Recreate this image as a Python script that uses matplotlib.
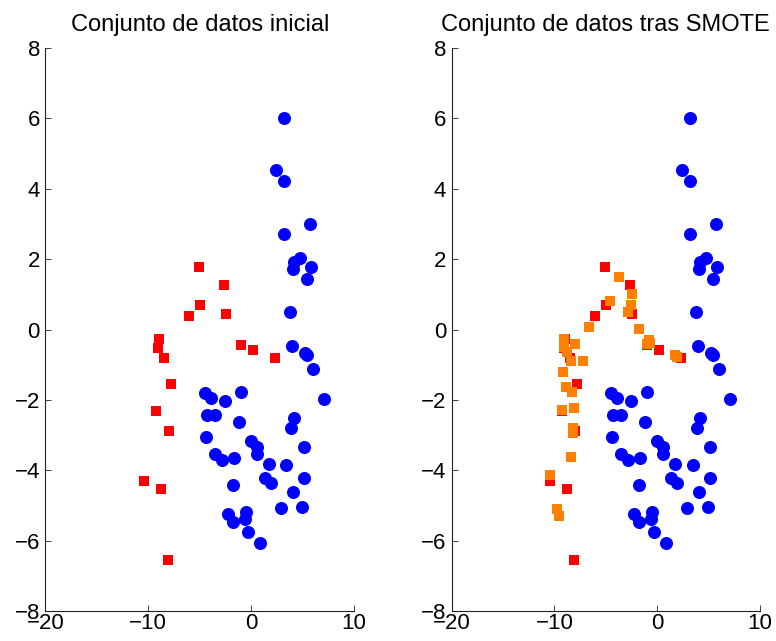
import numpy as np
import matplotlib
matplotlib.use("Agg")
import matplotlib.pyplot as plt

plt.rcParams['font.family'] = ['Liberation Sans', 'DejaVu Sans']

# Majority class (blue circles)
maj_x = [3.15, 2.46, 3.24, 5.68, 3.24, 4.77, 4.18, 4.05, 5.83, 5.41, 3.79, 3.97,
         5.25, 5.40, 6.00, 7.13, -4.49, -3.87, -2.50, -1.01, -4.29, -3.54, -1.17,
         4.18, 3.86, -4.35, -0.04, 0.61, 5.12, 0.61, -3.48, -2.79, -1.69, 1.71,
         3.44, 5.12, 1.32, 1.97, -1.73, 4.05, 2.88, 4.96, -2.28, -0.50, -1.73,
         -0.62, -0.33, 0.84]
maj_y = [6.02, 4.53, 4.21, 3.00, 2.72, 2.03, 1.91, 1.72, 1.79, 1.43, 0.50, -0.46,
         -0.66, -0.72, -1.11, -1.97, -1.79, -1.93, -2.02, -1.77, -2.42, -2.43, -2.63,
         -2.52, -2.79, -3.04, -3.16, -3.33, -3.33, -3.53, -3.53, -3.69, -3.65, -3.83,
         -3.85, -4.20, -4.22, -4.35, -4.41, -4.60, -5.06, -5.04, -5.23, -5.18, -5.47,
         -5.39, -5.74, -6.07]

# Minority class (red squares)
min_x = [-5.10, -2.64, -4.94, -6.01, -2.41, -8.97, -9.03, -8.44, -0.98, 0.16, 2.33,
         -7.80, -9.26, -8.02, -10.43, -8.77, -8.12]
min_y = [1.78, 1.27, 0.71, 0.38, 0.45, -0.26, -0.52, -0.81, -0.45, -0.57, -0.80,
         -1.55, -2.31, -2.88, -4.30, -4.53, -6.54]

# Synthetic samples from SMOTE (orange squares)
syn_x = [-3.73, -2.46, -2.59, -2.82, -4.57, -6.67, -1.75, -0.84, -0.97, -0.70, 1.69,
         1.95, -9.05, -9.10, -7.98, -8.75, -8.40, -7.26, -9.14, -8.88, -8.27, -9.30,
         -8.07, -8.23, -8.17, -8.42, -10.41, -9.73, -9.53]
syn_y = [1.49, 1.01, 0.70, 0.51, 0.82, 0.08, 0.01, -0.30, -0.42, -0.38, -0.73,
         -0.77, -0.28, -0.48, -0.41, -0.65, -0.88, -0.90, -1.20, -1.62, -1.77, -2.28,
         -2.24, -2.80, -2.95, -3.61, -4.14, -5.10, -5.28]

titles = ["Conjunto de datos inicial", "Conjunto de datos tras SMOTE"]

fig = plt.figure(figsize=(7.76, 6.41), dpi=100)
ax1 = fig.add_axes([0.0586, 0.0463, 0.3975, 0.879])
ax2 = fig.add_axes([0.582, 0.0463, 0.3973, 0.879])

for i, ax in enumerate([ax1, ax2]):
    ax.scatter(maj_x, maj_y, s=88, marker='o', color=(0, 0, 1), linewidths=0)
    ax.scatter(min_x, min_y, s=62, marker='s', color=(1, 0, 0), linewidths=0)
    if i == 1:
        ax.scatter(syn_x, syn_y, s=62, marker='s', color=(1, 0.5, 0), linewidths=0)
    ax.set_xlim(-20, 10)
    ax.set_ylim(-8, 8)
    ax.set_xticks([-20, -10, 0, 10])
    ax.set_yticks(np.arange(-8, 9, 2))
    ax.spines['top'].set_visible(False)
    ax.spines['right'].set_visible(False)
    for s in ['left', 'bottom']:
        ax.spines[s].set_linewidth(0.8)
        ax.spines[s].set_color('#222222')
    ax.tick_params(direction='in', length=4.5, width=0.6, colors='#222222',
                   labelsize=16, labelcolor='black')
    ax.tick_params(axis='y', pad=4)
    ax.tick_params(axis='x', pad=1)
    ax.set_title(titles[i], fontsize=17, pad=12)

fig.savefig("out.png", dpi=100)
